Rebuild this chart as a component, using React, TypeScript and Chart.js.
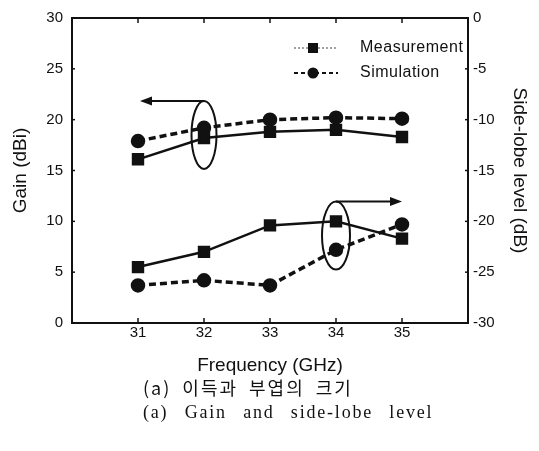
import React, { useEffect, useRef } from "react";
import { Chart, registerables } from "chart.js";

Chart.register(...registerables);

// ---- data ----
const frequencies = [31, 32, 33, 34, 35];
const gainMeasurement = [16.1, 18.2, 18.8, 19.0, 18.3];
const gainSimulation = [17.9, 19.2, 20.0, 20.2, 20.1];
const sllMeasurement = [-24.5, -23.0, -20.4, -20.0, -21.7];
const sllSimulation = [-26.3, -25.8, -26.3, -22.8, -20.3];
const gainTicks = [0, 5, 10, 15, 20, 25, 30];
const sllTicks = [-30, -25, -20, -15, -10, -5, 0];
const legendLabels = ["Measurement", "Simulation"];
const captionKo = "(a) 이득과 부엽의 크기";
const captionEn = "(a) Gain and side-lobe level";

const INK = "#111111";
const SANS = "'Liberation Sans', Arial, sans-serif";

const toPoints = (vals: number[]) => vals.map((v, i) => ({ x: frequencies[i], y: v }));

const decorPlugin = {
  id: "decor",
  afterDatasetsDraw(chart: any) {
    const { ctx, chartArea: a, scales } = chart;
    const sx = scales.x, sy = scales.y, sy2 = scales.y2;
    const line = (x1: number, y1: number, x2: number, y2: number) => {
      ctx.beginPath();
      ctx.moveTo(x1, y1);
      ctx.lineTo(x2, y2);
      ctx.stroke();
    };
    ctx.save();
    ctx.strokeStyle = INK;
    ctx.fillStyle = INK;
    // frame
    ctx.lineWidth = 2;
    ctx.strokeRect(a.left, a.top, a.right - a.left, a.bottom - a.top);
    // inward ticks
    ctx.lineWidth = 1.5;
    const tl = 5;
    frequencies.forEach((v) => {
      const px = sx.getPixelForValue(v);
      line(px, a.bottom, px, a.bottom - tl);
      line(px, a.top, px, a.top + tl);
    });
    gainTicks.forEach((v) => {
      const py = sy.getPixelForValue(v);
      line(a.left, py, a.left + 3, py);
    });
    sllTicks.forEach((v) => {
      const py = sy2.getPixelForValue(v);
      line(a.right, py, a.right - 3, py);
    });

    // callouts: ellipse + arrow
    const callout = (cx: number, cy: number, rx: number, ry: number, tipX: number) => {
      ctx.lineWidth = 2;
      ctx.beginPath();
      ctx.ellipse(cx, cy, rx, ry, 0, 0, Math.PI * 2);
      ctx.stroke();
      const ty = cy - ry;
      const dir = tipX < cx ? -1 : 1;
      line(cx, ty, tipX - dir * 10, ty);
      ctx.beginPath();
      ctx.moveTo(tipX, ty);
      ctx.lineTo(tipX - dir * 12, ty - 4.5);
      ctx.lineTo(tipX - dir * 12, ty + 4.5);
      ctx.closePath();
      ctx.fill();
    };
    callout(sx.getPixelForValue(32), sy.getPixelForValue(18.5), 12.5, 34, sx.getPixelForValue(31.03));
    callout(sx.getPixelForValue(34), sy2.getPixelForValue(-21.4), 14, 34, sx.getPixelForValue(35));

    // legend
    const lx0 = a.left + 222, lx1 = a.left + 266, mx = a.left + 241, tx = a.left + 288;
    const ly = [a.top + 30, a.top + 55];
    ctx.lineWidth = 1;
    ctx.strokeStyle = "#444";
    ctx.setLineDash([2, 2]);
    line(lx0, ly[0], lx1, ly[0]);
    ctx.setLineDash([4, 3]);
    ctx.lineWidth = 2;
    ctx.strokeStyle = INK;
    line(lx0, ly[1], lx1, ly[1]);
    ctx.setLineDash([]);
    ctx.fillRect(mx - 5, ly[0] - 5, 10, 10);
    ctx.beginPath();
    ctx.arc(mx, ly[1], 5.5, 0, Math.PI * 2);
    ctx.fill();
    ctx.font = "16px " + SANS;
    (ctx as any).letterSpacing = "0.5px";
    ctx.textAlign = "left";
    ctx.textBaseline = "middle";
    ctx.fillText(legendLabels[0], tx, ly[0]);
    ctx.fillText(legendLabels[1], tx, ly[1]);
    ctx.restore();
  },
};

export default function App() {
  const canvasRef = useRef<HTMLCanvasElement | null>(null);

  useEffect(() => {
    const canvas = canvasRef.current;
    if (!canvas) return;
    const tickFont = { family: SANS, size: 15 };
    const titleFont = { family: SANS, size: 19 };
    const solid = {
      borderColor: INK,
      backgroundColor: INK,
      borderWidth: 2.5,
      pointStyle: "rect" as const,
      pointRadius: 7,
      pointBackgroundColor: INK,
      pointBorderColor: INK,
      tension: 0,
    };
    const dashed = {
      borderColor: INK,
      backgroundColor: INK,
      borderWidth: 3.5,
      borderDash: [7, 4],
      pointStyle: "circle" as const,
      pointRadius: 5.5,
      pointBackgroundColor: INK,
      pointBorderColor: INK,
      tension: 0,
    };
    const chart = new Chart(canvas, {
      type: "line",
      data: {
        datasets: [
          { label: "Gain " + legendLabels[0], data: toPoints(gainMeasurement), yAxisID: "y", ...solid },
          { label: "Gain " + legendLabels[1], data: toPoints(gainSimulation), yAxisID: "y", ...dashed },
          { label: "SLL " + legendLabels[0], data: toPoints(sllMeasurement), yAxisID: "y2", ...solid },
          { label: "SLL " + legendLabels[1], data: toPoints(sllSimulation), yAxisID: "y2", ...dashed },
        ],
      },
      options: {
        responsive: false,
        animation: false,
        devicePixelRatio: 1,
        layout: { padding: { top: 15, left: 0, right: 0, bottom: 0 } },
        plugins: { legend: { display: false }, tooltip: { enabled: false } },
        scales: {
          x: {
            type: "linear",
            position: "bottom",
            min: 30,
            max: 36,
            grid: { display: false, drawTicks: false },
            border: { display: false },
            afterBuildTicks: (s: any) => {
              s.ticks = frequencies.map((v) => ({ value: v }));
            },
            afterFit: (s: any) => {
              s.height = 128;
            },
            ticks: { font: tickFont, color: INK, padding: 1, autoSkip: false, maxRotation: 0, callback: (v: any) => String(v) },
            title: {
              display: true,
              text: "Frequency (GHz)",
              color: INK,
              font: titleFont,
              padding: { top: 0, bottom: 74 },
            },
          },
          y: {
            type: "linear",
            position: "left",
            min: 0,
            max: 30,
            grid: { display: false, drawTicks: false },
            border: { display: false },
            afterBuildTicks: (s: any) => {
              s.ticks = gainTicks.map((v) => ({ value: v }));
            },
            afterFit: (s: any) => {
              s.width = 72;
            },
            ticks: { font: tickFont, color: INK, padding: 9 },
            title: {
              display: true,
              text: "Gain (dBi)",
              color: INK,
              font: titleFont,
              padding: { top: 9, bottom: 0 },
            },
          },
          y2: {
            type: "linear",
            position: "right",
            min: -30,
            max: 0,
            grid: { display: false, drawTicks: false },
            border: { display: false },
            afterBuildTicks: (s: any) => {
              s.ticks = sllTicks.map((v) => ({ value: v }));
            },
            afterFit: (s: any) => {
              s.width = 71;
            },
            ticks: { font: tickFont, color: INK, padding: 5 },
            title: {
              display: true,
              text: "Side-lobe level (dB)",
              color: INK,
              font: titleFont,
              padding: { top: 8, bottom: 0 },
            },
          },
        },
      },
      plugins: [decorPlugin],
    } as any);
    return () => chart.destroy();
  }, []);

  return (
    <div style={{ position: "fixed", left: 0, top: 0, width: 539, height: 451, background: "#fff" }}>
      <canvas ref={canvasRef} width={539} height={451} style={{ display: "block" }} />
      <div
        style={{
          position: "absolute",
          left: 143,
          top: 376,
          fontFamily: "'Noto Sans CJK KR', sans-serif",
          fontSize: 18,
          letterSpacing: 2,
          wordSpacing: 5,
          color: INK,
          whiteSpace: "nowrap",
          lineHeight: "22px",
        }}
      >
        {captionKo}
      </div>
      <div
        style={{
          position: "absolute",
          left: 143,
          top: 401,
          fontFamily: "'Liberation Serif', 'Times New Roman', serif",
          fontSize: 18,
          letterSpacing: 1.8,
          wordSpacing: 10,
          color: INK,
          whiteSpace: "nowrap",
          lineHeight: "22px",
        }}
      >
        {captionEn}
      </div>
    </div>
  );
}
